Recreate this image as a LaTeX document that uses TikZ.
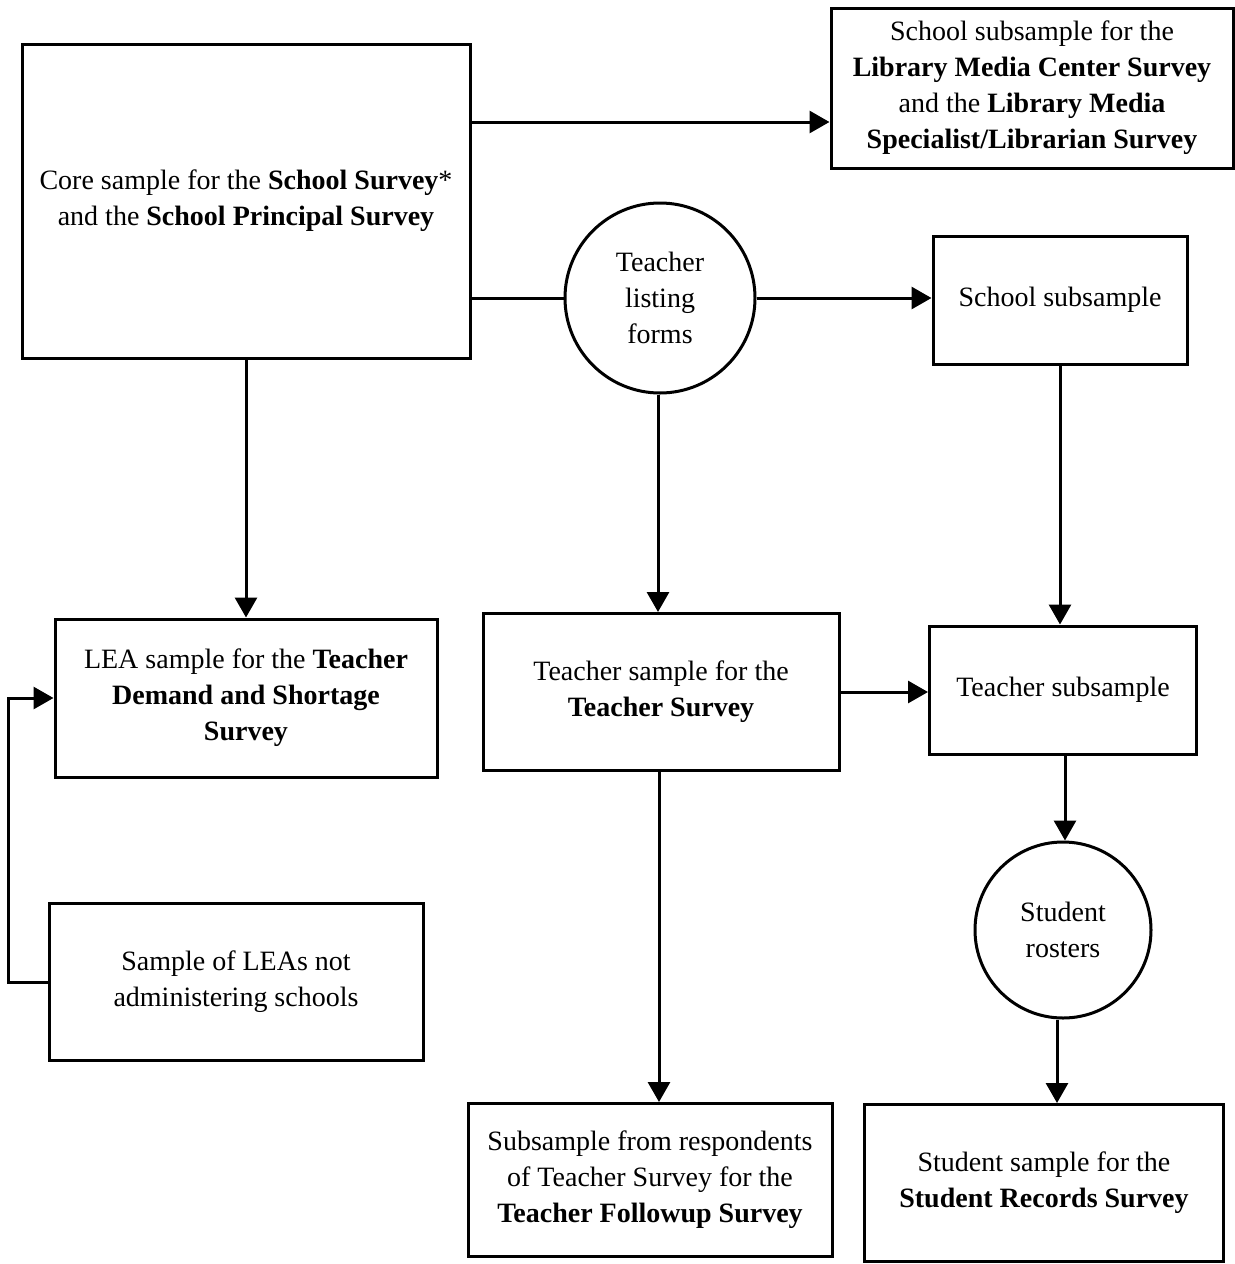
\documentclass[tikz,border=0pt]{standalone}
\usepackage{fontspec}
\setmainfont{Liberation Serif}
\usepackage{tikz}
\usetikzlibrary{arrows.meta}

\tikzset{
  box/.style={draw, line width=1.5pt, align=center, inner sep=2pt,
    font=\fontsize{14}{18}\selectfont},
  roundbox/.style={draw, circle, line width=1.5pt, align=center, inner sep=0pt,
    font=\fontsize{14}{18}\selectfont},
  conn/.style={line width=1.5pt},
  arr/.style={line width=1.5pt, -{Triangle[length=10pt,width=11pt]}}
}

\begin{document}
\begin{tikzpicture}[x=0.5pt, y=-0.5pt]
            \useasboundingbox (0,0) rectangle (1235,1264);

            % boxes and circles
            \node[box, minimum width=224pt, minimum height=157pt] (core) at (246, 201)
              {Core sample for the \textbf{School Survey}*\\ and the \textbf{School Principal Survey}};
            \node[box, minimum width=201pt, minimum height=80pt] (lib) at (1032, 88)
              {School subsample for the\\ \textbf{Library Media Center Survey}\\ and the \textbf{Library Media}\\ \textbf{Specialist/Librarian Survey}};
            \node[roundbox, minimum size=95pt] (tlf) at (660, 298) {Teacher\\ listing\\ forms};
            \node[box, minimum width=127pt, minimum height=64pt] (ssub) at (1060, 300) {School subsample};
            \node[box, minimum width=191pt, minimum height=79pt] (lea) at (246, 698)
              {LEA sample for the \textbf{Teacher}\\ \textbf{Demand and Shortage}\\ \textbf{Survey}};
            \node[box, minimum width=178pt, minimum height=78.5pt] (tsam) at (661, 692)
              {Teacher sample for the\\ \textbf{Teacher Survey}};
            \node[box, minimum width=133.5pt, minimum height=64pt] (tsub) at (1063, 690) {Teacher subsample};
            \node[box, minimum width=187pt, minimum height=78.5pt] (leas) at (236, 982)
              {Sample of LEAs not\\ administering schools};
            \node[roundbox, minimum size=88pt] (rost) at (1063, 930) {Student\\ rosters};
            \node[box, minimum width=182pt, minimum height=76.5pt] (fsub) at (650, 1180)
              {Subsample from respondents\\ of Teacher Survey for the\\ \textbf{Teacher Followup Survey}};
            \node[box, minimum width=179.5pt, minimum height=78.5pt] (ssam) at (1044, 1183)
              {Student sample for the\\ \textbf{Student Records Survey}};

            \coordinate (libin) at ([yshift=-17pt]lib.west);

            % connectors
            \draw[arr] (core.east |- libin) -- (libin); % core-lib
            \draw[conn] (core.east |- tlf.west) -- (tlf.west); % core-tlf
            \draw[arr] (tlf.east) -- (tlf.east -| ssub.west); % tlf-ssub
            \draw[arr] (core.south) -- (core.south |- lea.north); % core-lea
            \draw[arr] ([xshift=-1pt]tlf.south) -- ([xshift=-1pt]tlf.south |- tsam.north); % tlf-tsam
            \draw[arr] (ssub.south) -- (ssub.south |- tsub.north); % ssub-tsub
            \draw[arr] (tsam.east) -- (tsam.east -| tsub.west); % tsam-tsub
            \draw[arr] ([xshift=1pt]tsub.south) -- ([xshift=1pt]rost.north); % tsub-rost
            \draw[arr] ([xshift=-3pt]rost.south) -- ([xshift=-3pt]rost.south |- ssam.north); % rost-ssam
            \draw[arr] ([xshift=-1pt]tsam.south) -- ([xshift=-1pt]tsam.south |- fsub.north); % tsam-fsub
            \draw[arr] (leas.west) -- ++(-39,0) |- (lea.west); % leas-lea
        \end{tikzpicture}
\end{document}
